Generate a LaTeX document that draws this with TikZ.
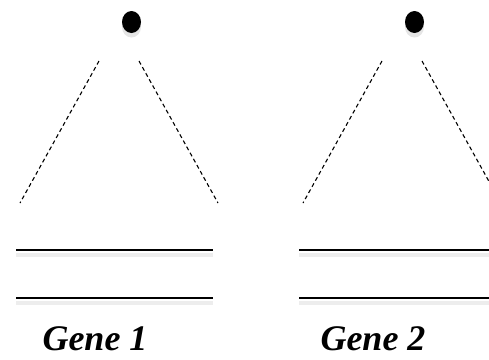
\documentclass[tikz,border=0pt]{standalone}
\usepackage{fontspec}
\setmainfont{Liberation Serif}
\usetikzlibrary{shapes.geometric}
\begin{document}
\begin{tikzpicture}[x=1pt,y=-1pt,
  dotnode/.style={ellipse, fill=black, minimum width=19pt, minimum height=22pt, inner sep=0pt},
  dashline/.style={line width=1.1pt, dash pattern=on 4pt off 3pt},
  strand/.style={line width=1.2pt},
  strandshadow/.style={line width=4pt, black!7},
  genelabel/.style={font=\bfseries\itshape\fontsize{36}{40}\selectfont, anchor=base, inner sep=0pt}]
\useasboundingbox (0,0) rectangle (489,359);
\foreach \dx/\n/\tx in {0/1/95, 283/2/373} {
  \begin{scope}[xshift=\dx]
    \fill[black!10] (131.5,27) ellipse (9.5pt and 10.5pt);
    \node[dotnode] (dot\n) at (131.5,22) {};
    \coordinate (la\n) at (99,61);
    \coordinate (lb\n) at (20,203);
    \coordinate (ra\n) at (139,61);
    \coordinate (rb\n) at (218,203);
    \draw[dashline] (la\n) -- (lb\n);
    \draw[dashline] (ra\n) -- (rb\n);
    \coordinate (ta\n) at (16,250);
    \coordinate (tb\n) at (213,250);
    \coordinate (ba\n) at (16,298);
    \coordinate (bb\n) at (213,298);
    \draw[strandshadow] ([yshift=-5pt]ta\n) -- ([yshift=-5pt]tb\n);
    \draw[strandshadow] ([yshift=-5pt]ba\n) -- ([yshift=-5pt]bb\n);
    \draw[strand] (ta\n) -- (tb\n);
    \draw[strand] (ba\n) -- (bb\n);
  \end{scope}
  \node[genelabel] (gene\n) at (\tx,350) {Gene \n};
}
\end{tikzpicture}
\end{document}
